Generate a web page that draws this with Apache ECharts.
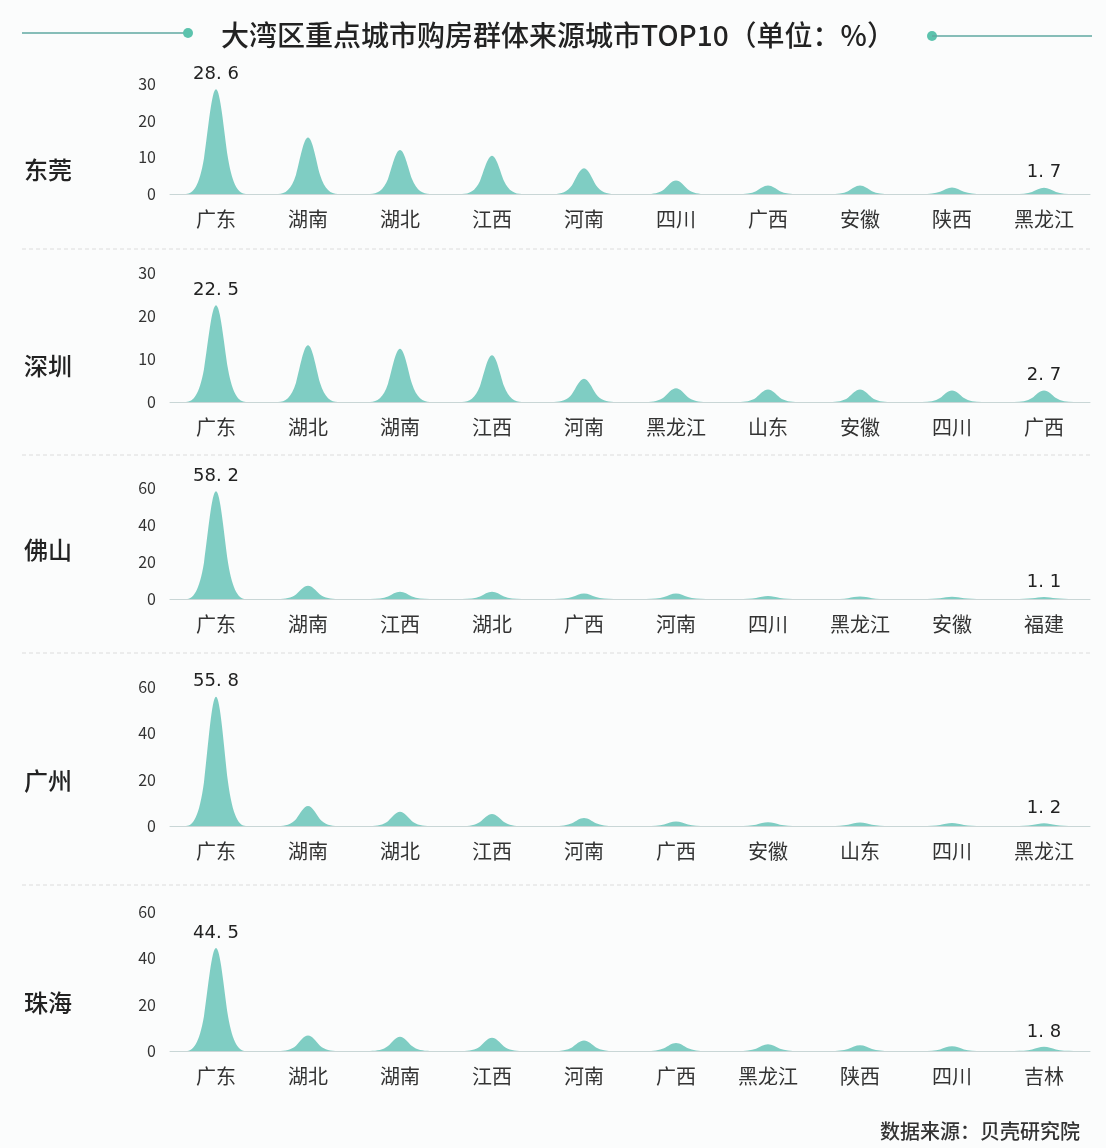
<!DOCTYPE html>
<html>
<head>
<meta charset="utf-8">
<script src="https://cdn.jsdelivr.net/npm/echarts@6/dist/echarts.min.js"></script>
<style>
html,body{margin:0;padding:0;background:#fbfcfc;}
#main{width:1106px;height:1148px;}
</style>
</head>
<body>
<div id="main"></div>
<script>
// ---- data ----
const panelNames = ['东莞', '深圳', '佛山', '广州', '珠海'];

const dgCats = ['广东', '湖南', '湖北', '江西', '河南', '四川', '广西', '安徽', '陕西', '黑龙江'];
const dgVals = [28.6, 15.4, 12.0, 10.4, 7.0, 3.7, 2.3, 2.3, 1.8, 1.7];

const szCats = ['广东', '湖北', '湖南', '江西', '河南', '黑龙江', '山东', '安徽', '四川', '广西'];
const szVals = [22.5, 13.2, 12.4, 10.9, 5.4, 3.2, 2.9, 2.9, 2.7, 2.7];

const fsCats = ['广东', '湖南', '江西', '湖北', '广西', '河南', '四川', '黑龙江', '安徽', '福建'];
const fsVals = [58.2, 7.2, 3.9, 3.9, 3.0, 3.0, 1.6, 1.3, 1.2, 1.1];

const gzCats = ['广东', '湖南', '湖北', '江西', '河南', '广西', '安徽', '山东', '四川', '黑龙江'];
const gzVals = [55.8, 8.6, 6.1, 5.2, 3.5, 1.9, 1.6, 1.5, 1.3, 1.2];

const zhCats = ['广东', '湖北', '湖南', '江西', '河南', '广西', '黑龙江', '陕西', '四川', '吉林'];
const zhVals = [44.5, 6.7, 6.2, 5.7, 4.5, 3.5, 2.9, 2.5, 2.0, 1.8];

const yMax = [30, 30, 60, 60, 60];
const yInterval = [10, 10, 20, 20, 20];

// ---- layout ----
const panels = [
  {cats: dgCats, vals: dgVals},
  {cats: szCats, vals: szVals},
  {cats: fsCats, vals: fsVals},
  {cats: gzCats, vals: gzVals},
  {cats: zhCats, vals: zhVals}
];
const gridTops = [84, 273, 488, 687, 912];
const gridHeights = [110, 129, 111, 139, 139];
const nameY = [170, 366, 550, 781, 1003];
const sepY = [249, 455, 653, 885];

const FONT = '"Noto Sans CJK SC", "Noto Sans", sans-serif';
const bell = 'path://M0,100 C12,100 22,93 30,66 C37,38 43,0 50,0 C57,0 63,38 70,66 C78,93 88,100 100,100 Z';

const grids = [], xAxes = [], yAxes = [], series = [];
panels.forEach((p, i) => {
  grids.push({left: 170, right: 16, top: gridTops[i], height: gridHeights[i]});
  xAxes.push({
    type: 'category', gridIndex: i, data: p.cats,
    axisLine: {show: true, lineStyle: {color: '#c9d6d6', width: 1}},
    axisTick: {show: false},
    axisLabel: {color: '#333', fontSize: 20, fontFamily: FONT, margin: 15, interval: 0}
  });
  yAxes.push({
    type: 'value', gridIndex: i, min: 0, max: yMax[i], interval: yInterval[i],
    axisLine: {show: false}, axisTick: {show: false},
    splitLine: {show: false},
    axisLabel: {color: '#333', fontSize: 16, fontFamily: FONT, margin: 14}
  });
  series.push({
    type: 'pictorialBar', xAxisIndex: i, yAxisIndex: i,
    symbol: bell, symbolSize: [60, '100%'],
    itemStyle: {color: '#7fcdc3'},
    label: {
      show: true, position: 'top', distance: 6,
      color: '#222', fontSize: 18, fontFamily: '"DejaVu Sans", sans-serif',
      formatter: (prm) => (prm.dataIndex === 0 || prm.dataIndex === p.vals.length - 1) ? prm.value.toFixed(1).replace('.', '. ') : ''
    },
    data: p.vals
  });
});

const graphics = [];
// title decorations
graphics.push({type: 'line', shape: {x1: 22, y1: 33, x2: 188, y2: 33}, style: {stroke: '#5fa9a2', lineWidth: 1.5}});
graphics.push({type: 'circle', shape: {cx: 188, cy: 33, r: 5}, style: {fill: '#5cc3ad'}});
graphics.push({type: 'circle', shape: {cx: 932, cy: 36, r: 5}, style: {fill: '#5cc3ad'}});
graphics.push({type: 'line', shape: {x1: 932, y1: 36, x2: 1092, y2: 36}, style: {stroke: '#5fa9a2', lineWidth: 1.5}});
graphics.push({type: 'text', x: 558, y: 35, style: {
  text: '大湾区重点城市购房群体来源城市TOP10（单位：%）', fill: '#222', font: '500 28px ' + FONT,
  textAlign: 'center', textVerticalAlign: 'middle'}});
// separators
sepY.forEach(y => graphics.push({type: 'line', shape: {x1: 22, y1: y, x2: 1092, y2: y},
  style: {stroke: '#dcdcdc', lineWidth: 1, lineDash: [4, 3]}}));
// panel names
panelNames.forEach((n, i) => graphics.push({type: 'text', x: 48, y: nameY[i], style: {
  text: n, fill: '#222', font: '500 24px ' + FONT, textAlign: 'center', textVerticalAlign: 'middle'}}));
// source
graphics.push({type: 'text', x: 1080, y: 1131, style: {
  text: '数据来源：贝壳研究院', fill: '#333', font: '500 20px ' + FONT, textAlign: 'right', textVerticalAlign: 'middle'}});

const chart = echarts.init(document.getElementById('main'));
chart.setOption({
  backgroundColor: '#fbfcfc',
  animation: false,
  grid: grids, xAxis: xAxes, yAxis: yAxes, series: series,
  graphic: graphics
});
</script>
</body>
</html>
